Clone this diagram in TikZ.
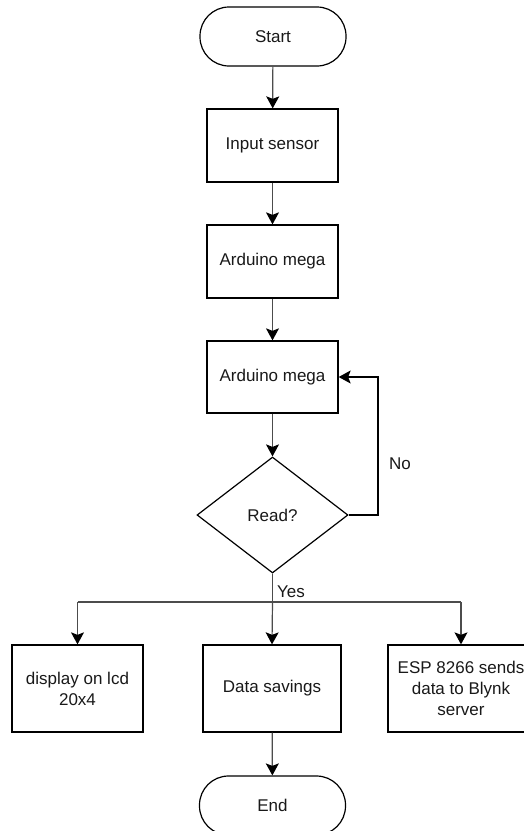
\documentclass[tikz,border=0pt]{standalone}
\usepackage{fontspec}
\setmainfont{Liberation Sans}
\usetikzlibrary{shapes.geometric,arrows.meta}
\begin{document}
\begin{tikzpicture}[x=1pt,y=-1pt,
  every node/.style={font=\fontsize{17}{21}\selectfont, text=black!90},
  term/.style={draw=black, line width=1.2pt, rounded corners=29pt, minimum width=146pt, minimum height=59pt, inner sep=0pt},
  procbox/.style={draw=black, line width=1.3pt, minimum width=131pt, minimum height=73pt, inner sep=0pt, align=center},
  conn/.style={draw=black!70, line width=1.2pt},
  arr/.style={conn, -{Stealth[width=13pt,length=12pt,inset=2.5pt,color=black]}},
  lbl/.style={inner sep=0pt}
]
\useasboundingbox (0,0) rectangle (524,831);
\fill[white] (0,0) rectangle (524,831);

\node[term] (start) at (273,36.5) {Start};
\node[procbox] (in) at (272.5,145.5) {Input sensor};
\node[procbox] (ard1) at (272.5,261.5) {Arduino mega};
\node[procbox, minimum height=72pt] (ard2) at (272.5,377) {Arduino mega};
\node[draw=black, line width=1.2pt, shape=diamond, minimum width=151pt, minimum height=116pt, inner sep=0pt] (read) at (272.5,515) {};
\node[lbl] (readt) at (272.5,515) {Read?};
\node[procbox, minimum height=87pt] (disp) at (77.5,688.5) {display on lcd\\20x4};
\node[procbox, minimum width=138pt, minimum height=87pt] (save) at (272,688.5) {Data savings};
\node[procbox, minimum width=146pt, minimum height=87pt] (esp) at (461,688.5) {ESP 8266 sends\\data to Blynk\\server};
\node[term] (end) at (272.5,805.5) {End};

\coordinate (j) at (272.5,602);
\coordinate (jl) at (77.5,602);
\coordinate (jr) at (461,602);
\coordinate (nr) at (378,515);
\coordinate (nt) at (378,377);

\draw[arr] (start) -- (in);
\draw[arr] (in) -- (ard1);
\draw[arr] (ard1) -- (ard2);
\draw[arr] (ard2) -- (read);
\draw[arr, draw=black] (read.east) -- (nr) -- (nt) -- (ard2.east);
\node[lbl] (no) at (400,464) {No};

\draw[conn] (read.south) -- (j);
\draw[conn] (jl) -- (jr);
\draw[arr] (jl) -- (disp.north);
\draw[arr] (j) -- (save.north);
\draw[arr] (jr) -- (esp.north);
\node[lbl] (yes) at (291,592) {Yes};
\draw[arr] (save) -- (end);
\end{tikzpicture}
\end{document}
